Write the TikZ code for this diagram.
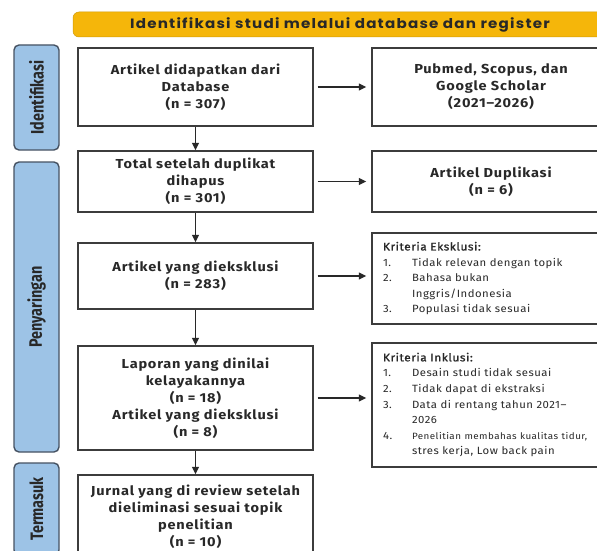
\documentclass[tikz,border=0pt]{standalone}
\usepackage{fontspec}
\setmainfont{Fira Sans}
\newfontfamily\bannerfont[FakeStretch=1.12,LetterSpace=9]{Poppins}
\newfontfamily\boxfont[FakeStretch=1.12,LetterSpace=6]{Fira Sans}
\newfontfamily\listfont[FakeStretch=1.08,LetterSpace=5]{Fira Sans}
\newfontfamily\condfont[FakeStretch=0.8]{Fira Sans}
\usetikzlibrary{arrows.meta}
\definecolor{bannerfill}{RGB}{245,182,10}
\definecolor{sidefill}{RGB}{157,195,230}
\definecolor{sideline}{RGB}{70,82,98}
\definecolor{boxline}{RGB}{60,60,60}
\definecolor{txt}{RGB}{40,40,40}
\tikzset{
  flowbox/.style={draw=boxline, line width=1.4pt, fill=white, text=txt, align=center,
    font=\fontsize{13}{17}\selectfont\boxfont\bfseries, inner sep=0pt},
  listbox/.style={draw=boxline, line width=1.4pt, fill=white, text=txt, align=left,
    font=\fontsize{10.5}{15.6}\selectfont\listfont, inner xsep=11pt, inner ysep=0pt},
  sidebox/.style={draw=sideline, line width=1.4pt, fill=sidefill, rounded corners=5pt,
    text=txt, font=\fontsize{18}{20}\selectfont\condfont\bfseries, inner sep=0pt},
  banner/.style={fill=bannerfill, draw=bannerfill!85!black, line width=0.5pt, rounded corners=6pt,
    text=txt, font=\fontsize{13.5}{15}\selectfont\bannerfont\bfseries, inner sep=0pt},
  flowarrow/.style={draw=txt, line width=1.4pt, -{Triangle[length=7.5pt,width=7pt]}},
}
\newcommand{\itm}[1]{\makebox[29pt][l]{#1}}
\begin{document}
\begin{tikzpicture}[x=1pt,y=-1pt]
\useasboundingbox (0,0) rectangle (597,551);
\clip (0,0) rectangle (597,551);
\fill[white] (0,0) rectangle (597,551);

% banner
\node[banner, minimum width=534pt, minimum height=25pt] (ban) at (340,24.5)
  {Identifikasi studi melalui database dan register};

% side labels
\node[sidebox, minimum width=45pt, minimum height=105pt] (s1) at (36.5,97.5)
  {\rotatebox{90}{Identifikasi}};
\node[sidebox, minimum width=45pt, minimum height=290pt] (s2) at (36.5,307)
  {\rotatebox{90}{Penyaringan}};
\node[sidebox, minimum width=45pt, minimum height=92pt] (s3) at (36.5,509)
  {\rotatebox{90}{Termasuk}};

% main column
\node[flowbox, minimum width=235pt, minimum height=78pt] (b1) at (195.5,87)
  {Artikel didapatkan dari\\Database\\(n = 307)};
\node[flowbox, minimum width=235pt, minimum height=61pt] (b2) at (195.5,181.5)
  {Total setelah duplikat\\dihapus\\(n = 301)};
\node[flowbox, minimum width=235pt, minimum height=66pt] (b3) at (195.5,276)
  {Artikel yang diekskl\-usi\\(n = 283)};
\node[flowbox, minimum width=235pt, minimum height=104pt] (b4) at (195.5,398)
  {Laporan yang dinilai\\kelayakannya\\(n = 18)\\Artikel yang diekskl\-usi\\(n = 8)};
\node[flowbox, minimum width=235pt, minimum height=84pt] (b5) at (195.5,517)
  {Jurnal yang di review setelah\\dieliminasi sesuai topik\\penelitian\\(n = 10)};

% right column
\node[flowbox, minimum width=238pt, minimum height=78pt] (r1) at (491,87)
  {Pubmed, Scopus, dan\\Google Scholar\\(2021\textendash2026)};
\node[flowbox, minimum width=238pt, minimum height=61pt] (r2) at (491,181.5)
  {Artikel Duplikasi\\(n = 6)};
\node[listbox, minimum width=238pt, text width=216pt, minimum height=91pt] (r3) at (491,278.5)
  {{\fontsize{11}{15.6}\selectfont\addfontfeature{FakeBold=1.2}Kriteria Eksklusi:}\\
   \itm{1.}Tidak relevan dengan topik\\
   \itm{2.}Bahasa bukan\\
   \itm{}Inggris/Indonesia\\
   \itm{3.}Populasi tidak sesuai};
\node[listbox, minimum width=238pt, text width=216pt, minimum height=124pt] (r4) at (491,405)
  {{\fontsize{11}{15.6}\selectfont\addfontfeature{FakeBold=1.2}Kriteria Inklusi:}\\
   \itm{1.}Desain studi tidak sesuai\\
   \itm{2.}Tidak dapat di ekstraksi\\
   \itm{3.}Data di rentang tahun 2021\textendash\\
   \itm{}2026\\
   \itm{4.}{\fontsize{9.1}{15.6}\selectfont Penelitian membahas kualitas tidur,}\\
   \itm{}stres kerja, Low back pain};

% connectors
\draw[flowarrow] (b1) -- (b2);
\draw[flowarrow] (b2) -- (b3);
\draw[flowarrow] (b3) -- (b4);
\draw[flowarrow] (b4) -- (b5);
\draw[flowarrow, shorten <=4pt, shorten >=5pt] (b1.east) -- (b1.east -| r1.west);
\draw[flowarrow, shorten <=4pt, shorten >=5pt] (b2.east) -- (b2.east -| r2.west);
\draw[flowarrow, shorten <=4pt, shorten >=5pt] (b3.east) -- (b3.east -| r3.west);
\draw[flowarrow, shorten <=4pt, shorten >=5pt] (b4.east) -- (b4.east -| r4.west);
\end{tikzpicture}
\end{document}
